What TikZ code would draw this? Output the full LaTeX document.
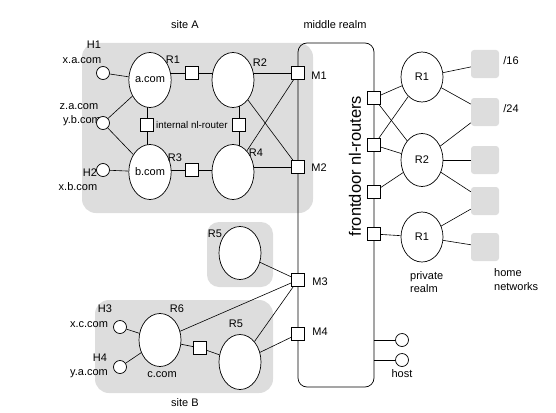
\documentclass[tikz,border=0pt]{standalone}
\usepackage{fontspec}
\setmainfont{Liberation Sans}
\usetikzlibrary{shapes.geometric}
\definecolor{regiongray}{RGB}{221,221,221}
\pgfdeclarelayer{bg}
\pgfdeclarelayer{ln}
\pgfsetlayers{bg,ln,main}
\begin{document}
\begin{tikzpicture}[x=1pt,y=-1pt,
 every node/.style={font=\fontsize{11}{12}\selectfont, inner sep=0pt},
 rt/.style={draw, ellipse, fill=white, minimum width=42, minimum height=55, line width=0.7pt},
 nlr/.style={draw, rectangle, fill=white, minimum size=13, line width=0.7pt},
 hst/.style={draw, circle, fill=white, minimum size=13, line width=0.7pt},
 homenet/.style={fill=regiongray, rounded corners=3, minimum size=28},
 link/.style={line width=0.6pt}]
\useasboundingbox (0,0) rectangle (556,412);

% middle realm box
\node[draw, rounded corners=9, minimum width=76, minimum height=344, line width=0.7pt] (mr) at (336,215) {};
\node[rotate=90, font=\fontsize{16.5}{18}\selectfont] (fd) at (355,166) {frontdoor nl-routers};

% ---- site A
\node (lsA) at (185,25) {site A};
\node (lmr) at (335,25) {middle realm};
\node[rt] (a1) at (150,80) {a.com};
\node[rt] (a2) at (233,80) {};
\node[rt] (a3) at (150,172) {b.com};
\node[rt] (a4) at (233,172) {};
\node[nlr] (b12) at (192,73) {};
\node[nlr] (b13) at (147,125) {};
\node[nlr] (b24) at (239,125) {};
\node[nlr] (b34) at (192,170) {};
\node[nlr] (m1) at (298,73) {};
\node[nlr] (m2) at (298,167) {};
\node[anchor=west, font=\fontsize{9.8}{11}\selectfont] (lint) at (156,125) {internal nl-router};
\node (lH1) at (94,45) {H1};
\node (lxa) at (82,61) {x.a.com};
\node (lza) at (79,107) {z.a.com};
\node (lyb) at (82,121) {y.b.com};
\node (lH2) at (90,173) {H2};
\node (lxb) at (78,187) {x.b.com};
\node[hst] (h1) at (103,73) {};
\node[hst] (hyb) at (103,123) {};
\node[hst] (h2) at (103,170) {};
\node (lR1) at (173,60) {R1};
\node (lR2) at (260,63) {R2};
\node (lR3) at (175,158) {R3};
\node (lR4) at (256,153) {R4};
\node (lM1) at (319,76) {M1};
\node (lM2) at (319,168) {M2};

% ---- R5 upper and site B
\node[rt, minimum height=53] (r5u) at (240,253) {};
\node (lR5u) at (215,234) {R5};
\node[rt, minimum height=53] (r6) at (160,340) {};
\node[rt] (r5l) at (240,362) {};
\node[nlr] (bB) at (200,348) {};
\node[nlr] (m3) at (298,280) {};
\node[nlr] (m4) at (298,334) {};
\node (lM3) at (320,282) {M3};
\node (lM4) at (320,332) {M4};
\node (lH3) at (105,309) {H3};
\node (lxc) at (89,325) {x.c.com};
\node (lH4) at (100,358) {H4};
\node (lya) at (89,374) {y.a.com};
\node[hst] (h3) at (120,327) {};
\node[hst] (h4) at (120,367) {};
\node (lR6) at (177,309) {R6};
\node (lcc) at (162,375) {c.com};
\node (lR5l) at (236,324) {R5};
\node (lsB) at (185,403) {site B};

% ---- right side
\node[rt, minimum height=50] (q1) at (422,77) {R1};
\node[rt, minimum height=53] (q2) at (422,160) {R2};
\node[rt, minimum height=50] (q3) at (422,237) {R1};
\node[nlr] (f1) at (374,98) {};
\node[nlr] (f2) at (374,145) {};
\node[nlr] (f3) at (374,192) {};
\node[nlr] (f4) at (374,234) {};
\node[homenet] (n1) at (485,64) {};
\node[homenet] (n2) at (485,112) {};
\node[homenet] (n3) at (485,160) {};
\node[homenet] (n4) at (485,201) {};
\node[homenet] (n5) at (485,247) {};
\node (l16) at (511,61) {/16};
\node (l24) at (511,109) {/24};
\node[anchor=west] (lpr1) at (410,277) {private};
\node[anchor=west] (lpr2) at (410,289) {realm};
\node[anchor=west] (lhn1) at (494,273) {home};
\node[anchor=west] (lhn2) at (494,287) {networks};
\node[hst] (hh1) at (402,340) {};
\node[hst] (hh2) at (402,360) {};
\node (lhost) at (402,374) {host};

\begin{pgfonlayer}{bg}
\fill[regiongray, rounded corners=14] (82,43) rectangle (313,213);
\fill[regiongray, rounded corners=12] (207,222) rectangle (273,287);
\fill[regiongray, rounded corners=14] (95,300) rectangle (273,393);
\end{pgfonlayer}

\begin{pgfonlayer}{ln}
\draw[link] (h1) -- (a1);
\draw[link] (hyb) -- (a1);
\draw[link] (hyb) -- (a3);
\draw[link] (h2) -- (a3);
\draw[link] (b12) -- (b12 -| a1);
\draw[link] (b12) -- (b12 -| a2);
\draw[link] (b13) -- (b13 |- a1);
\draw[link] (b13) -- (b13 |- a3);
\draw[link] (b24) -- (b24 |- a2);
\draw[link] (b24) -- (b24 |- a4);
\draw[link] (b34) -- (b34 -| a3);
\draw[link] (b34) -- (b34 -| a4);
\draw[link] (m1) -- (m1 -| a2);
\draw[link] (a2) -- (m2);
\draw[link] (a4) -- (m1);
\draw[link] (m2) -- (m2 -| a4);
\draw[link] (r5u) -- (m3);
\draw[link] (r6) -- (m3);
\draw[link] (r5l) -- (m3);
\draw[link] (r5l) -- (m4);
\draw[link] (h3) -- (r6);
\draw[link] (h4) -- (r6);
\draw[link] (r6) -- (bB);
\draw[link] (bB) -- (r5l);
\draw[link] (f1) -- (q1);
\draw[link] (f1) -- (q2);
\draw[link] (f2) -- (q1);
\draw[link] (f2) -- (q2);
\draw[link] (f3) -- (q2);
\draw[link] (f4) -- (q3);
\draw[link] (q1) -- (n1);
\draw[link] (q1) -- (n2);
\draw[link] (q2) -- (n2);
\draw[link] (q2) -- (n3);
\draw[link] (q2) -- (n4);
\draw[link] (q3) -- (n4);
\draw[link] (q3) -- (n5);
\draw[link] (hh1) -- (hh1 -| mr.east);
\draw[link] (hh2) -- (hh2 -| mr.east);
\end{pgfonlayer}
\end{tikzpicture}
\end{document}
